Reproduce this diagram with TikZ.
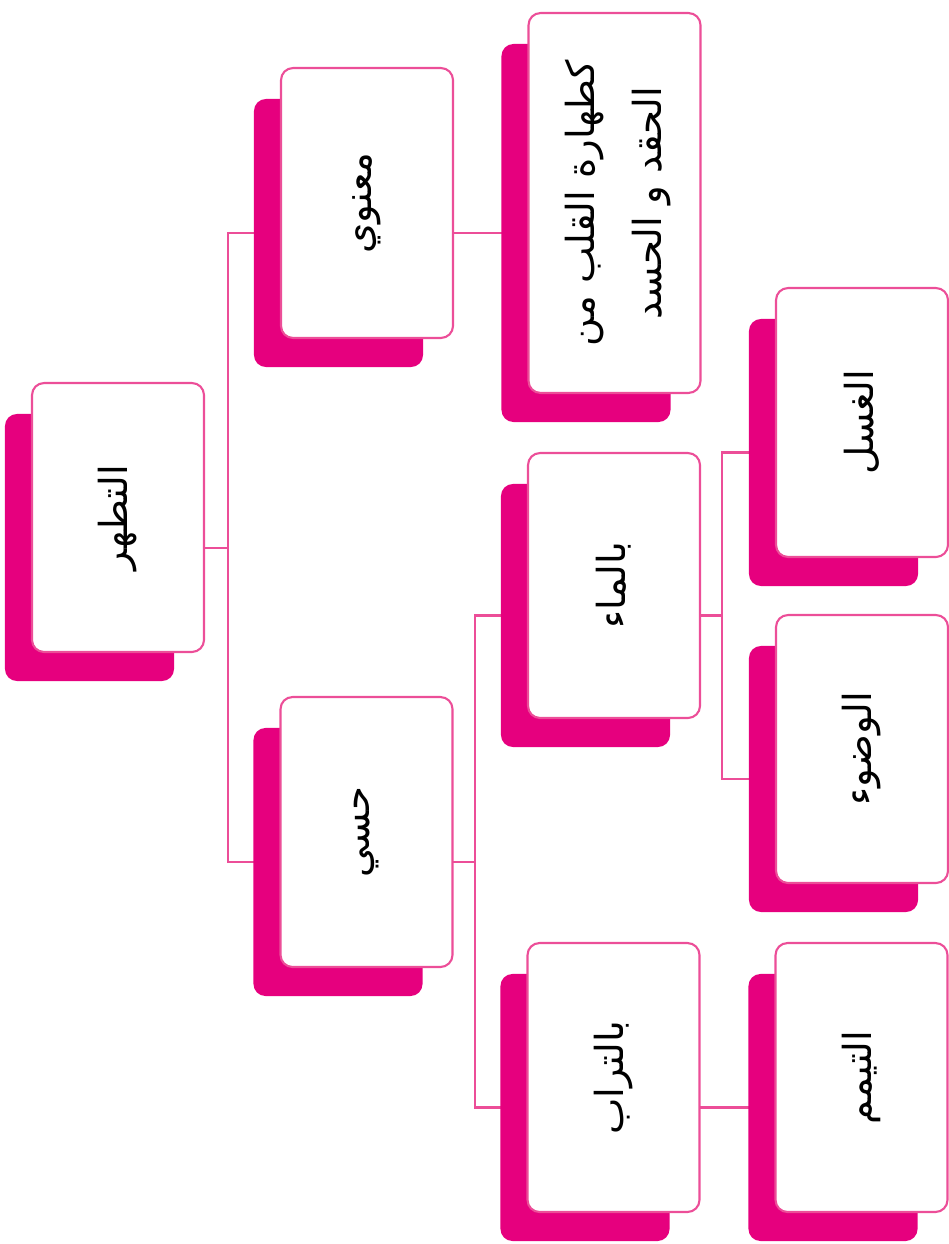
\documentclass[tikz,border=0pt]{standalone}
\usepackage{fontspec}
\newfontfamily\arabicfont[Script=Arabic]{DejaVu Sans}
\TeXXeTstate=1
\usetikzlibrary{backgrounds}

\definecolor{cardshadow}{RGB}{230,0,126}
\definecolor{cardline}{RGB}{236,78,152}

% Arabic face and size of the card labels
\newcommand\cardfont{\arabicfont\fontsize{22}{38}\selectfont}

\tikzset{
  card/.style={draw=cardline, line width=1.2pt, fill=white,
    rounded corners=0.24cm, minimum width=3.44cm, inner sep=0pt},
  link/.style={draw=cardline, line width=1.3pt},
  cardback/.style={fill=cardshadow, rounded corners=0.24cm}
}

\begin{document}
\begin{tikzpicture}[x=0.02cm, y=-0.02cm]
\useasboundingbox (0,0) rectangle (949,1244);

% cards, labels turned to read from top to bottom
\node[card, minimum height=5.38cm] (root)     at (118,517.5)
  {\rotatebox{90}{\cardfont\beginR التطهر\endR}};
\node[card, minimum height=5.40cm] (maanawi)  at (367,203)
  {\rotatebox{90}{\cardfont\beginR معنوي\endR}};
\node[card, minimum height=7.60cm] (qalb)     at (614.5,203)
  {\rotatebox{90}{\cardfont\begin{tabular}{@{}c@{}}\beginR كطهارة القلب من\endR\\ \beginR الحقد و الحسد\endR\end{tabular}}};
\node[card, minimum height=5.40cm] (hissi)    at (366.5,832)
  {\rotatebox{90}{\cardfont\beginR حسي\endR}};
\node[card, minimum height=5.30cm] (maa)      at (614,585.5)
  {\rotatebox{90}{\cardfont\beginR بالماء\endR}};
\node[card, minimum height=5.38cm] (turab)    at (613.5,1077.5)
  {\rotatebox{90}{\cardfont\beginR بالتراب\endR}};
\node[card, minimum height=5.38cm] (ghusl)    at (862,422.5)
  {\rotatebox{90}{\cardfont\beginR الغسل\endR}};
\node[card, minimum height=5.36cm] (wudu)     at (862,749)
  {\rotatebox{90}{\cardfont\beginR الوضوء\endR}};
\node[card, minimum height=5.38cm] (tayammum) at (861.5,1077.5)
  {\rotatebox{90}{\cardfont\beginR التيمم\endR}};

% junction points of the branch lines
\coordinate (busA) at (228,548);
\coordinate (busB) at (475,862);
\coordinate (busC) at (722,615.5);

\begin{scope}[on background layer]
  % branch lines
  \draw[link] (root.east |- busA) -- (busA);
  \draw[link] ([shift={(0,30)}]maanawi.center) -| (busA) |- ([shift={(0,30)}]hissi.center);
  \draw[link] ([shift={(0,30)}]maanawi.center) -- ([shift={(0,30)}]qalb.center);
  \draw[link] ([shift={(0,30)}]hissi.center) -- (busB);
  \draw[link] ([shift={(0,30)}]maa.center) -| (busB) |- ([shift={(0,30)}]turab.center);
  \draw[link] ([shift={(0,30)}]maa.center) -- (busC);
  \draw[link] ([shift={(0,30)}]ghusl.center) -| (busC) |- ([shift={(0,30)}]wudu.center);
  \draw[link] ([shift={(0,30)}]turab.center) -- ([shift={(0,30)}]tayammum.center);
  % solid backing plate behind each card
  \foreach \n in {root,maanawi,qalb,hissi,maa,turab,ghusl,wudu,tayammum}
    \fill[cardback] ([shift={(-26,32)}]\n.north west) rectangle ([shift={(-31,28)}]\n.south east);
\end{scope}
\end{tikzpicture}
\end{document}
